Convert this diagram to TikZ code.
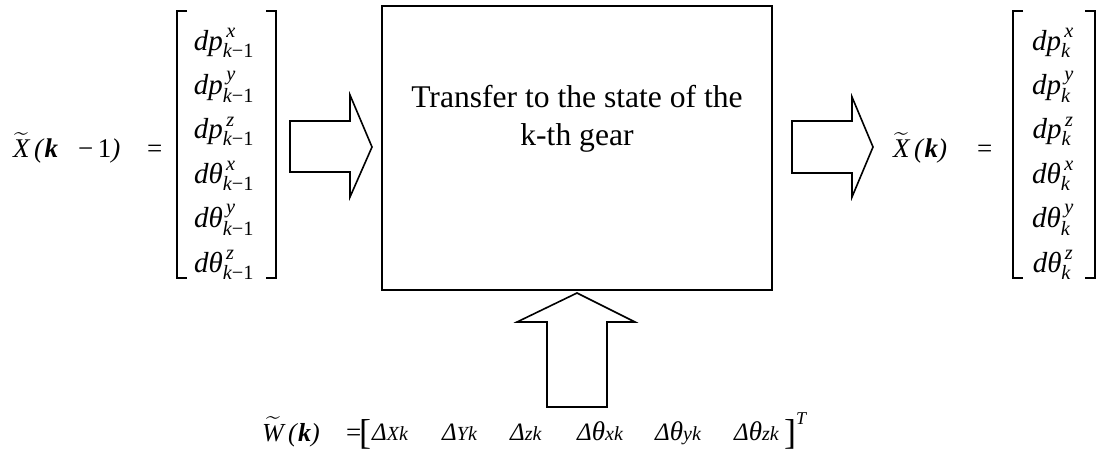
\RequirePackage{fix-cm}
\documentclass[tikz,border=0pt]{standalone}
\usepackage{amsmath}
\usepackage{fontspec}
\setmainfont{Liberation Serif}
\newcommand\ti[1]{\text{\itshape #1}}
\newcommand\entp[2]{$\ti{dp}^{\,\ti{#1}}_{#2}$}
\newcommand\entt[2]{$\ti{dθ}^{\,\ti{#1}}_{#2}$}
\newcommand\km{\ti{k}\text{−1}}
\newcommand\kk{\ti{k}}
\newcommand\dlt[2]{{\fontsize{25}{27}\selectfont\textit{Δ}}{\fontsize{27}{29}\selectfont\textit{#1}}{\fontsize{20}{22}\selectfont\textit{#2}}}
\begin{document}
\begin{tikzpicture}[x=1pt,y=-1pt,
  lbl/.style={inner sep=0pt, anchor=base west, font=\fontsize{27}{30}\selectfont},
  ent/.style={inner sep=0pt, anchor=base, font=\fontsize{29}{30}\selectfont},
  boxline/.style={draw, line width=1.7pt},
  blockarrow/.style={draw, line width=1.6pt, fill=white, line join=miter},
  brk/.style={line width=2.6pt, line join=miter, line cap=butt},
  small/.style={inner sep=0pt, anchor=base west, font=\fontsize{18}{20}\selectfont\itshape}]
\useasboundingbox (0,0) rectangle (1099,455);

% central box
\node[boxline, minimum width=390pt, minimum height=284pt, inner sep=0pt] (box) at (577,148) {};
\node[inner sep=0pt, anchor=base, font=\fontsize{31.6}{38}\selectfont] (t1) at (577,107) {Transfer to the state of the};
\node[inner sep=0pt, anchor=base, font=\fontsize{31.6}{38}\selectfont] (t2) at (577,145) {k-th gear};

% block arrows
\draw[blockarrow] (290,121) -- (350,121) -- (350,95) -- (372,147) -- (350,197) -- (350,172) -- (290,172) -- cycle;
\draw[blockarrow] (792,121) -- (852,121) -- (852,97) -- (873,147) -- (852,197) -- (852,173) -- (792,173) -- cycle;
\draw[blockarrow] (577,293) -- (635,322) -- (607,322) -- (607,407) -- (547,407) -- (547,322) -- (517,322) -- cycle;

% left label
\node[lbl] (xl) at (13,157) {$\widetilde{\ti{X}}$\,\textit{(}\textbf{\textit{k}}\hspace{20pt}−\,1\textit{)}};
\node[lbl] (eql) at (147,157) {=};

% left matrix
\draw[brk] (187,11) -- (177,11) -- (177,278) -- (187,278);
\draw[brk] (266,11) -- (276,11) -- (276,278) -- (266,278);
\node[ent] (l1) at (224,50) {\entp{x}{\km}};
\node[ent] (l2) at (224,94.4) {\entp{y}{\km}};
\node[ent] (l3) at (224,138.8) {\entp{z}{\km}};
\node[ent] (l4) at (224,183.2) {\entt{x}{\km}};
\node[ent] (l5) at (224,227.6) {\entt{y}{\km}};
\node[ent] (l6) at (224,272) {\entt{z}{\km}};

% right label
\node[lbl] (xr) at (893,157) {$\widetilde{\ti{X}}$\,\textit{(}\textbf{\textit{k}}\textit{)}};
\node[lbl] (eqr) at (977,157) {=};

% right matrix
\draw[brk] (1023,11) -- (1013,11) -- (1013,278) -- (1023,278);
\draw[brk] (1085,11) -- (1095,11) -- (1095,278) -- (1085,278);
\node[ent] (r1) at (1053,50) {\entp{x}{\kk}};
\node[ent] (r2) at (1053,94.4) {\entp{y}{\kk}};
\node[ent] (r3) at (1053,138.8) {\entp{z}{\kk}};
\node[ent] (r4) at (1053,183.2) {\entt{x}{\kk}};
\node[ent] (r5) at (1053,227.6) {\entt{y}{\kk}};
\node[ent] (r6) at (1053,272) {\entt{z}{\kk}};

% bottom formula
\node[lbl, font=\fontsize{26}{28}\selectfont] (w) at (262,441) {$\widetilde{\ti{W}}$\,\textit{(}\textbf{\textit{k}}\textit{)}};
\node[lbl] (eqb) at (346,441) {=};
\node[inner sep=0pt, anchor=base west, font=\fontsize{36}{38}\selectfont] (lb) at (359,444) {[};
\node[inner sep=0pt, anchor=base west] (d1) at (372,440) {\dlt{}{Xk}};
\node[inner sep=0pt, anchor=base west] (d2) at (442,440) {\dlt{}{Yk}};
\node[inner sep=0pt, anchor=base west] (d3) at (510,440) {\dlt{}{zk}};
\node[inner sep=0pt, anchor=base west] (d4) at (577,440) {\dlt{θ}{xk}};
\node[inner sep=0pt, anchor=base west] (d5) at (655,440) {\dlt{θ}{yk}};
\node[inner sep=0pt, anchor=base west] (d6) at (734,440) {\dlt{θ}{zk}};
\node[inner sep=0pt, anchor=base west, font=\fontsize{36}{38}\selectfont] (rb) at (784,444) {]};
\node[small] (tt) at (796,424) {T};
\end{tikzpicture}
\end{document}
